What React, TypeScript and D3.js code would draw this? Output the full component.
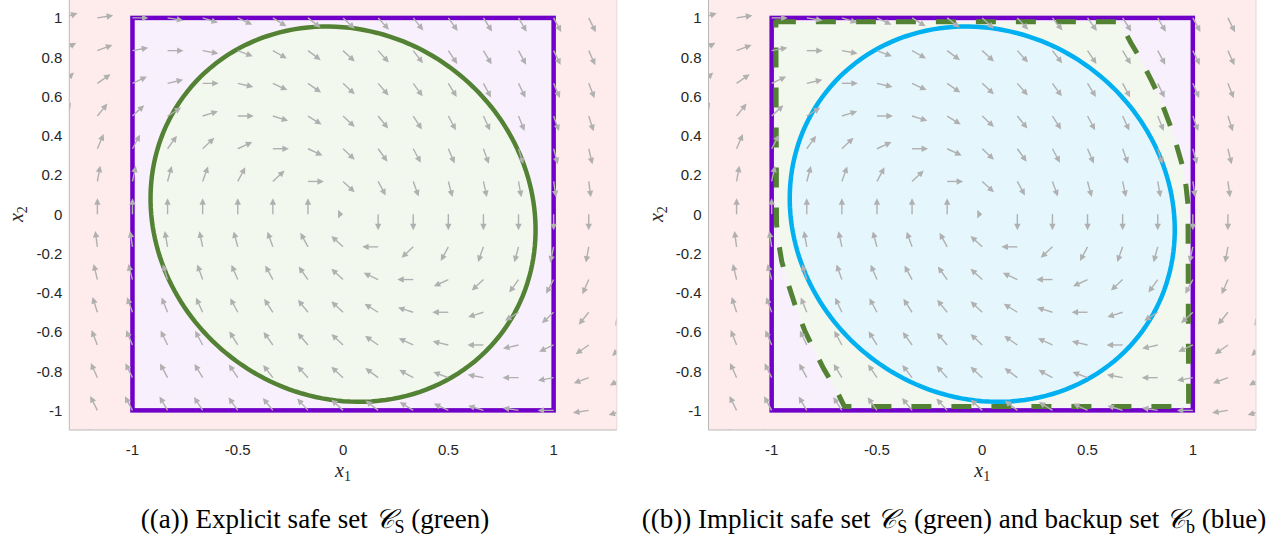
import * as d3 from 'd3';

const width = 1284;
const height = 537;

const xTicks = [-1, -0.5, 0, 0.5, 1];
const yTicks = [-1, -0.8, -0.6, -0.4, -0.2, 0, 0.2, 0.4, 0.6, 0.8, 1];
const xLimits = [-1.3, 1.3];
const yLimits = [-1.1, 1.1];
const stateBox = [-1, 1];

// quiver sample points, in sixths of a unit
const quiverSixths = [-9, -8, -7, -6, -5, -4, -3, -2, -1, 0, 1, 2, 3, 4, 5, 6, 7, 8, 9];
// closed loop dynamics dx/dt = A x
const dynamicsA = [
    [0, 1],
    [-1, -1]
];

// backup set: x' P x <= level
const backupP = [
    [1, 0.08],
    [0.08, 0.914]
];
const backupLevel = 0.83;

// implicit safe set boundary, panel (b)
const implicitX1 = [
    -0.98, 0.655, 0.68, 0.707, 0.754, 0.802, 0.841, 0.889, 0.92, 0.952, 0.968, 0.977, 0.98, -0.655, -0.68, -0.707,
    -0.754, -0.802, -0.841, -0.889, -0.92, -0.952, -0.968, -0.977
];
const implicitX2 = [
    0.98, 0.98, 0.925, 0.871, 0.786, 0.684, 0.599, 0.463, 0.361, 0.242, 0.14, 0.05, -0.98, -0.98, -0.925, -0.871,
    -0.786, -0.684, -0.599, -0.463, -0.361, -0.242, -0.14, -0.05
];

// layout
const panelLeft = [69.3, 708.5];
const plotWidth = 547.5;
const plotTop = -1.7;
const plotBottom = 430;

const colors = {
    outside: '#fdeceb',
    box: '#f8f1fd',
    safeFill: '#f3f8ef',
    backupFill: '#e5f6fd',
    purple: '#7000c8',
    green: '#548235',
    blue: '#00b0f0',
    arrow: '#b0b0b0',
    text: '#262626'
};

const arrowLen = 16;
const headLen = 6.5;
const headHalf = 3.2;

function Panel({ index }: { index: number }) {
    const left = panelLeft[index];
    const x = d3.scaleLinear().domain(xLimits).range([left, left + plotWidth]);
    const y = d3.scaleLinear().domain(yLimits).range([plotBottom, plotTop]);
    const kx = x(1) - x(0);
    const ky = y(0) - y(1);
    const path = d3
        .line<[number, number]>()
        .x((d) => x(d[0]))
        .y((d) => y(d[1]));

    // level set of the quadratic form
    const ellipse: [number, number][] = d3.range(0, 360, 2).map((deg) => {
        const c = Math.cos((deg * Math.PI) / 180);
        const s = Math.sin((deg * Math.PI) / 180);
        const q = backupP[0][0] * c * c + 2 * backupP[0][1] * c * s + backupP[1][1] * s * s;
        const r = Math.sqrt(backupLevel / q);
        return [r * c, r * s];
    });
    const ellipsePath = path(ellipse) + 'Z';

    const implicitPath = path(implicitX1.map((v, i) => [v, implicitX2[i]] as [number, number])) + 'Z';

    const arrows = quiverSixths.flatMap((i) =>
        quiverSixths.map((j) => {
            const gx = i / 6;
            const gy = j / 6;
            const u = dynamicsA[0][0] * gx + dynamicsA[0][1] * gy;
            const v = dynamicsA[1][0] * gx + dynamicsA[1][1] * gy;
            const px = x(gx);
            const py = y(gy);
            let dx = u * kx;
            let dy = -v * ky;
            const m = Math.hypot(dx, dy);
            if (m < 1e-9) {
                // zero vector: bare arrow head
                return {
                    key: `${i}_${j}`,
                    line: null,
                    head: `M${px},${py}L${px - 5},${py - 4.3}L${px - 5},${py + 4.3}Z`
                };
            }
            dx /= m;
            dy /= m;
            const tx = px + dx * arrowLen;
            const ty = py + dy * arrowLen;
            const bx = tx - dx * headLen;
            const by = ty - dy * headLen;
            return {
                key: `${i}_${j}`,
                line: [px, py, bx + dx, by + dy],
                head: `M${tx},${ty}L${bx - dy * headHalf},${by + dx * headHalf}L${bx + dy * headHalf},${by - dx * headHalf}Z`
            };
        })
    );

    const [b0, b1] = stateBox;
    const clipId = `axes-clip-${index}`;
    const xL = x(xLimits[0]);
    const xR = x(xLimits[1]);

    return (
        <g>
            <defs>
                <clipPath id={clipId}>
                    <rect x={xL} y={plotTop} width={xR - xL} height={plotBottom - plotTop} />
                </clipPath>
            </defs>
            <g clipPath={`url(#${clipId})`}>
                <rect x={xL} y={plotTop} width={xR - xL} height={plotBottom - plotTop} fill={colors.outside} />
                <rect x={x(b0)} y={y(b1)} width={x(b1) - x(b0)} height={y(b0) - y(b1)} fill={colors.box} />
                {index === 1 && <path d={implicitPath} fill={colors.safeFill} />}
                <path d={ellipsePath} fill={index === 0 ? colors.safeFill : colors.backupFill} />
                <rect
                    x={x(b0)}
                    y={y(b1)}
                    width={x(b1) - x(b0)}
                    height={y(b0) - y(b1)}
                    fill="none"
                    stroke={colors.purple}
                    strokeWidth={4.5}
                />
                {index === 1 && (
                    <path
                        d={implicitPath}
                        fill="none"
                        stroke={colors.green}
                        strokeWidth={5}
                        strokeDasharray="20 20"
                        strokeLinejoin="round"
                    />
                )}
                <path
                    d={ellipsePath}
                    fill="none"
                    stroke={index === 0 ? colors.green : colors.blue}
                    strokeWidth={4.5}
                />
                {arrows.map((a) => (
                    <g key={a.key}>
                        {a.line && (
                            <line
                                x1={a.line[0]}
                                y1={a.line[1]}
                                x2={a.line[2]}
                                y2={a.line[3]}
                                stroke={colors.arrow}
                                strokeWidth={1.4}
                            />
                        )}
                        <path d={a.head} fill={colors.arrow} />
                    </g>
                ))}
            </g>
            {/* axes frame */}
            <line x1={xL} y1={plotTop} x2={xL} y2={plotBottom} stroke="#b8b8b8" strokeWidth={1} />
            <line x1={xL} y1={plotBottom} x2={xR} y2={plotBottom} stroke="#b8b8b8" strokeWidth={1} />
            <line x1={xR} y1={plotTop} x2={xR} y2={plotBottom} stroke="#e4d6d6" strokeWidth={1} />
            {yTicks.map((t) => (
                <text
                    key={`y${t}`}
                    x={xL - 7}
                    y={y(t)}
                    textAnchor="end"
                    dominantBaseline="central"
                    fontFamily="'Liberation Sans', Arial, sans-serif"
                    fontSize={15}
                    fill={colors.text}
                >
                    {String(t)}
                </text>
            ))}
            {xTicks.map((t) => (
                <text
                    key={`x${t}`}
                    x={x(t)}
                    y={449}
                    textAnchor="middle"
                    dominantBaseline="central"
                    fontFamily="'Liberation Sans', Arial, sans-serif"
                    fontSize={15}
                    fill={colors.text}
                >
                    {String(t)}
                </text>
            ))}
            <text
                x={x(0)}
                y={477}
                textAnchor="middle"
                fontFamily="'Liberation Serif', serif"
                fontSize={20}
                fill={colors.text}
            >
                <tspan fontStyle="italic">x</tspan>
                <tspan fontSize={14} dy={4}>
                    1
                </tspan>
            </text>
            <text
                transform={`translate(${xL - 46},${y(0)}) rotate(-90)`}
                textAnchor="middle"
                fontFamily="'Liberation Serif', serif"
                fontSize={20}
                fill={colors.text}
            >
                <tspan fontStyle="italic">x</tspan>
                <tspan fontSize={14} dy={4}>
                    2
                </tspan>
            </text>
        </g>
    );
}

export default function App() {
    const serif = "'Liberation Serif', 'Times New Roman', serif";
    return (
        <div style={{ position: 'fixed', left: 0, top: 0, width, height, background: '#ffffff' }}>
            <svg width={width} height={height} style={{ display: 'block' }}>
                <Panel index={0} />
                <Panel index={1} />
                <text x={315} y={528} textAnchor="middle" fontFamily={serif} fontSize={27} fill="#000">
                    ((a)) Explicit safe set <tspan fontStyle="italic">𝒞</tspan>
                    <tspan fontSize={18} dy={5}>
                        S
                    </tspan>
                    <tspan dy={-5}> (green)</tspan>
                </text>
                <text x={954} y={528} textAnchor="middle" fontFamily={serif} fontSize={27} fill="#000">
                    ((b)) Implicit safe set <tspan fontStyle="italic">𝒞</tspan>
                    <tspan fontSize={18} dy={5}>
                        S
                    </tspan>
                    <tspan dy={-5}> (green) and backup set </tspan>
                    <tspan fontStyle="italic">𝒞</tspan>
                    <tspan fontSize={18} dy={5}>
                        b
                    </tspan>
                    <tspan dy={-5}> (blue)</tspan>
                </text>
            </svg>
        </div>
    );
}
